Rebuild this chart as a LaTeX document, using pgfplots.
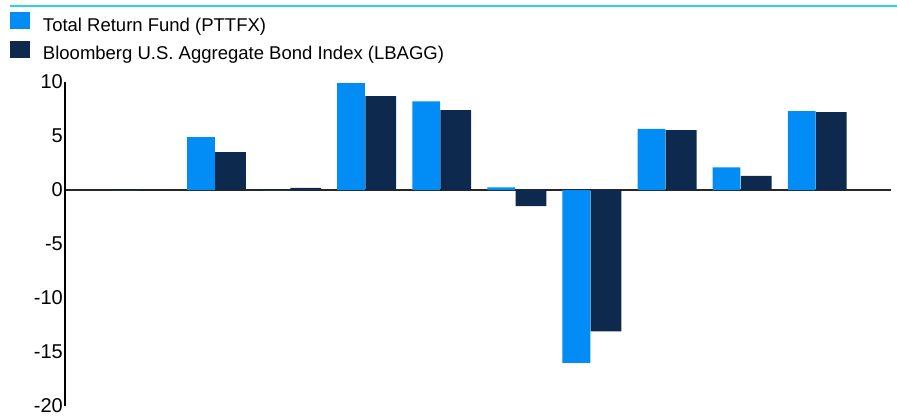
\documentclass[border=0pt]{standalone}
\usepackage{fontspec}
\setmainfont{Liberation Sans}
\usepackage{pgfplots}
\pgfplotsset{compat=1.18}
\definecolor{lblue}{RGB}{2,140,246}
\definecolor{navy}{RGB}{13,42,78}
\definecolor{topline}{RGB}{41,211,240}
\pgfplotsset{sqlegend/.style={legend image code/.code={\fill[##1] (0pt,-3pt) rectangle (20pt,14pt); \path (33pt,0pt);}}}
\begin{document}
\begin{tikzpicture}[x=1pt,y=1pt]
\useasboundingbox (-65,-10) rectangle (832,406);
\draw[topline, line width=1.8pt] (-55,400) -- (832,400);
\begin{axis}[
  at={(0,0)}, anchor=south west,
  scale only axis, width=826pt, height=324pt,
  xmin=0, xmax=11, ymin=-20, ymax=10,
  axis x line*=middle, axis y line*=left,
  x axis line style={-, line width=2pt, black!85},
  y axis line style={-, line width=1.5pt, black},
  xtick=\empty,
  ytick={-20,-15,-10,-5,0,5,10},
  ytick style={draw=none},
  yticklabel style={font=\fontsize{20}{24}\selectfont, inner xsep=2pt},
  /pgf/number format/assume math mode=true,
  clip=false,
  ybar,
  legend cell align=left,
  legend style={at={(-0.06659,1.21605)}, anchor=north west, draw=none, fill=none,
    inner sep=0pt, outer sep=0pt, row sep=5.5pt, column sep=0pt,
    nodes={inner sep=0pt, text height=14pt, text depth=4pt},
    font=\fontsize{18.5}{22}\selectfont},
]
\addplot[ybar, fill=lblue, draw=none, bar width=0.37, bar shift=-0.19, sqlegend] coordinates {
 (1,0) (2,4.9) (3,0) (4,9.9) (5,8.2) (6,0.25) (7,-16.0) (8,5.65) (9,2.1) (10,7.3)};
\addlegendentry{Total Return Fund (PTTFX)}
\addplot[ybar, fill=navy, draw=none, bar width=0.41, bar shift=0.205, sqlegend] coordinates {
 (1,0) (2,3.5) (3,0.2) (4,8.7) (5,7.4) (6,-1.5) (7,-13.1) (8,5.55) (9,1.3) (10,7.2)};
\addlegendentry{Bloomberg U.S. Aggregate Bond Index (LBAGG)}
\end{axis}
\end{tikzpicture}
\end{document}
